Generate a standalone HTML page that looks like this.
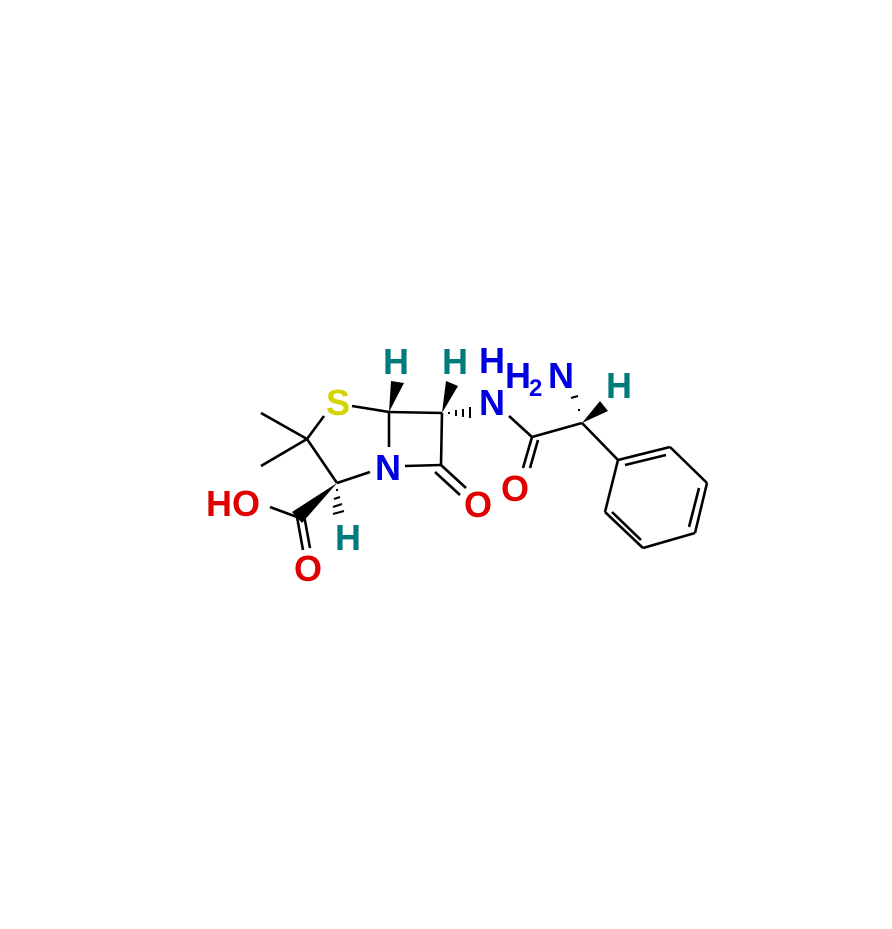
<!DOCTYPE html><html><head><style>body{margin:0;background:#fff}svg text{font-family:"Liberation Sans",Arial,sans-serif;font-weight:bold;font-size:36px}</style></head><body>
<svg width="892" height="924" viewBox="0 0 892 924">
<g stroke="#000" stroke-width="2.6" fill="none">
<line x1="352" y1="406" x2="389" y2="412"/>
<line x1="389" y1="412" x2="442" y2="413"/>
<line x1="389" y1="412" x2="389" y2="447"/>
<line x1="442" y1="413" x2="441" y2="465"/>
<line x1="405" y1="466" x2="441" y2="465"/>
<line x1="441" y1="465" x2="466" y2="488"/>
<line x1="435" y1="472" x2="460" y2="495"/>
<line x1="324" y1="416" x2="307" y2="439"/>
<line x1="307" y1="439" x2="261" y2="413"/>
<line x1="307" y1="439" x2="261" y2="466"/>
<line x1="307" y1="439" x2="337" y2="483"/>
<line x1="337" y1="483" x2="370" y2="472"/>
<line x1="297" y1="517" x2="270" y2="507"/>
<line x1="297" y1="517" x2="303" y2="550"/>
<line x1="304" y1="515" x2="310" y2="548"/>
<line x1="509" y1="416" x2="532" y2="437"/>
<line x1="532" y1="437" x2="582" y2="423"/>
<line x1="532" y1="437" x2="523" y2="468"/>
<line x1="538" y1="440" x2="530" y2="468"/>
<line x1="582" y1="423" x2="618" y2="460"/>
<line x1="618" y1="460" x2="670" y2="447"/>
<line x1="670" y1="447" x2="707" y2="483"/>
<line x1="707" y1="483" x2="695" y2="533"/>
<line x1="695" y1="533" x2="643" y2="548"/>
<line x1="643" y1="548" x2="605" y2="512"/>
<line x1="605" y1="512" x2="618" y2="460"/>
<line x1="625" y1="465" x2="666" y2="455"/>
<line x1="699" y1="488" x2="689" y2="527"/>
<line x1="641" y1="540" x2="612" y2="512"/>
</g>
<g fill="#000">
<polygon points="389,412 391,381 404,383"/>
<polygon points="442,413 446,381 458,386"/>
<polygon points="337,483 302,523 292,512"/>
<polygon points="582,423 600,401 608,411"/>
</g>
<g stroke="#000" stroke-width="2">
<line x1="338" y1="490" x2="336" y2="490"/>
<line x1="340" y1="497" x2="334" y2="499"/>
<line x1="342" y1="504" x2="333" y2="507"/>
<line x1="344" y1="511" x2="333" y2="514"/>
<line x1="449" y1="412" x2="449" y2="414"/>
<line x1="456" y1="410" x2="456" y2="416"/>
<line x1="463" y1="409" x2="463" y2="417"/>
<line x1="470" y1="407" x2="470" y2="418"/>
<line x1="578" y1="410" x2="580" y2="410"/>
<line x1="571" y1="398" x2="578" y2="396"/>
</g>
<text x="338" y="415" fill="#d4d400" text-anchor="middle">S</text>
<text x="388" y="480" fill="#0000e0" text-anchor="middle">N</text>
<text x="478" y="517" fill="#e00000" text-anchor="middle">O</text>
<text x="233" y="516" fill="#e00000" text-anchor="middle">HO</text>
<text x="308" y="581" fill="#e00000" text-anchor="middle">O</text>
<text x="515" y="501" fill="#e00000" text-anchor="middle">O</text>
<text x="348" y="550" fill="#007b7b" text-anchor="middle">H</text>
<text x="396" y="374" fill="#007b7b" text-anchor="middle">H</text>
<text x="455" y="374" fill="#007b7b" text-anchor="middle">H</text>
<text x="619" y="398" fill="#007b7b" text-anchor="middle">H</text>
<text x="492" y="373" fill="#0000e0" text-anchor="middle">H</text>
<text x="492" y="415" fill="#0000e0" text-anchor="middle">N</text>
<text x="505" y="388" fill="#0000e0">H</text>
<text x="529" y="396" fill="#0000e0" style="font-size:24px">2</text>
<text x="548" y="388" fill="#0000e0">N</text>
</svg></body></html>
